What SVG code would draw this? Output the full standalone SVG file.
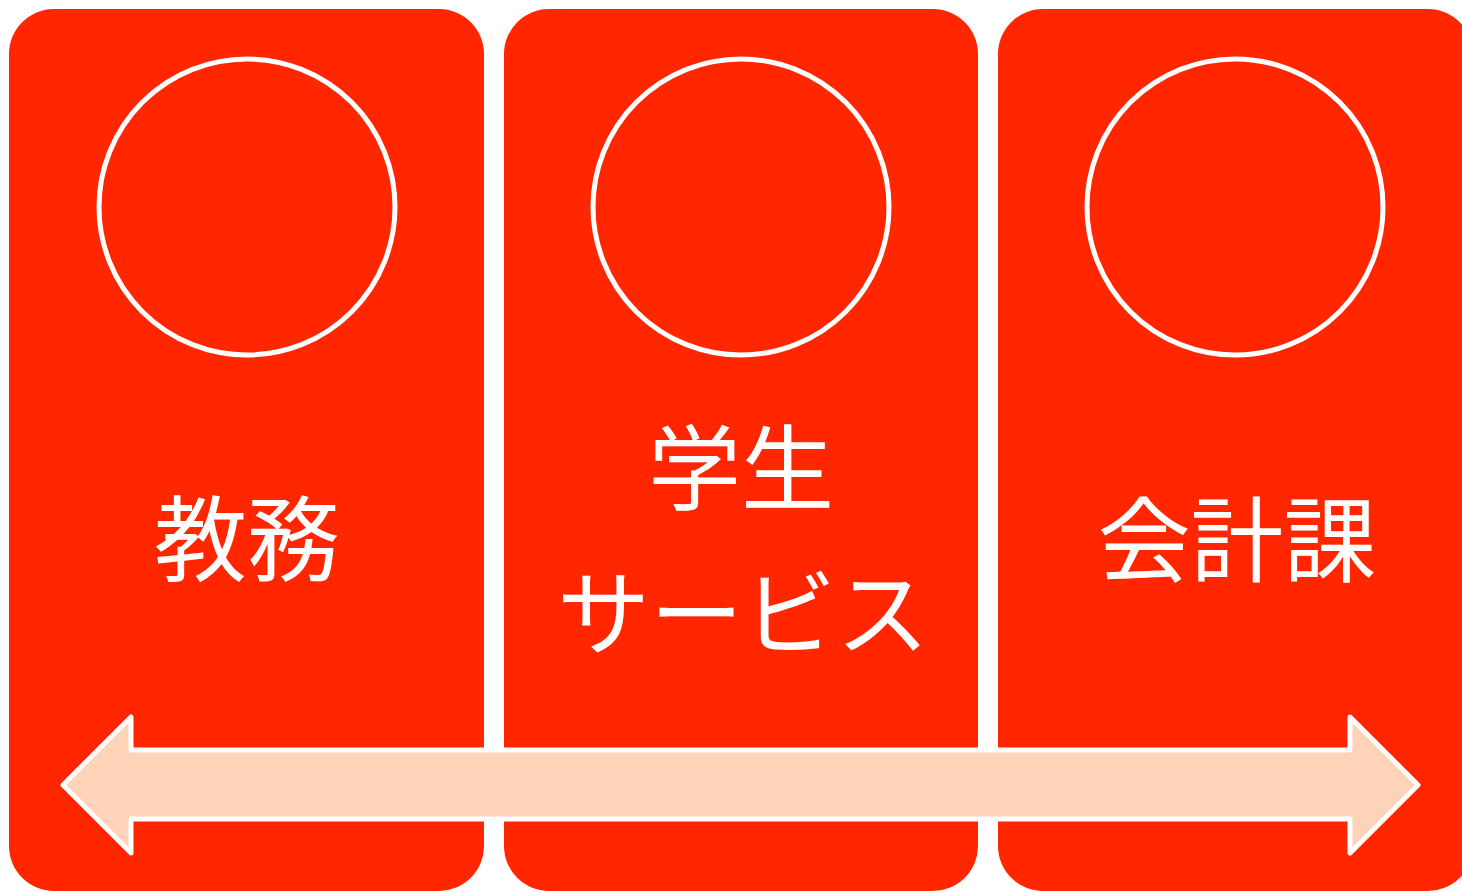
<svg xmlns="http://www.w3.org/2000/svg" width="1462" height="891" viewBox="0 0 1462 891">
<style>
.panel{fill:#FF2600;}
.ring{fill:none;stroke:#FFFFFF;stroke-width:5;}
.lbl{fill:#FFFFFF;font-family:"Noto Sans CJK JP","Noto Sans CJK SC",sans-serif;font-size:93px;text-anchor:middle;dominant-baseline:central;}
.arrow{fill:#FFD3B8;stroke:#FFFFFF;stroke-width:5;stroke-linejoin:round;}
</style>
<rect x="0" y="0" width="1462" height="891" fill="#FFFFFF"/>
<g id="node-kyomu">
<rect class="panel" x="9" y="9" width="475" height="882" rx="45" ry="45"/>
<circle class="ring" cx="247" cy="207" r="148"/>
<text class="lbl" x="247" y="533">教務</text>
</g>
<g id="node-gakusei">
<rect class="panel" x="504" y="9" width="474" height="882" rx="45" ry="45"/>
<circle class="ring" cx="741" cy="207" r="148"/>
<text class="lbl" x="741" y="462">学生</text>
<text class="lbl" x="743" y="607">サービス</text>
</g>
<g id="node-kaikei">
<rect class="panel" x="998" y="9" width="475" height="882" rx="45" ry="45"/>
<circle class="ring" cx="1235" cy="207" r="148"/>
<text class="lbl" x="1237" y="534">会計課</text>
</g>
<g id="connectors">
<path class="arrow" d="M63,785 L131,717 L131,750 L1350,750 L1350,717 L1418,785 L1350,853 L1350,819 L131,819 L131,853 Z"/>
</g>
</svg>
